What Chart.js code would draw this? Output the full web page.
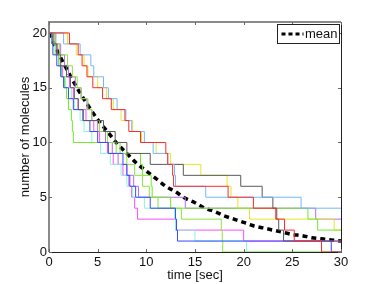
<!DOCTYPE html>
<html>
<head>
<meta charset="utf-8">
<script src="https://cdn.jsdelivr.net/npm/chart.js@4.4.1/dist/chart.umd.min.js"></script>
<style>
  html, body { margin: 0; padding: 0; background: #fff; }
  #wrap { width: 377px; height: 284px; position: relative; }
</style>
</head>
<body>
<div id="wrap"><canvas id="c" width="377" height="284"></canvas></div>
<script>
// ---- data ----
const startCount = 20;
const endTime = 30;
// jump times (sec) of each simulated trajectory; every jump removes one molecule
const redJumps      = [2.1, 3.0, 3.4, 3.9, 4.5, 5.5, 6.4, 7.8, 8.2, 9.4, 12.0, 12.2, 12.7, 12.8, 18.4, 21.0, 23.3, 24.2, 25.2, 28.0];
const lightBlueJumps= [1.5, 3.2, 4.3, 4.6, 5.6, 6.1, 7.0, 7.9, 8.5, 9.8, 10.7, 12.2, 12.9, 13.0, 16.1, 25.9];
const grayJumps     = [0.4, 0.8, 1.2, 1.8, 2.2, 2.6, 3.0, 3.5, 5.6, 6.8, 8.0, 10.4, 13.8, 19.7, 21.9, 23.0, 23.4, 23.6, 24.1];
const blueJumps     = [0.3, 0.4, 0.8, 1.2, 1.5, 2.0, 2.5, 3.5, 4.2, 5.0, 6.1, 7.6, 8.0, 8.3, 8.9, 10.4, 13.0, 13.1, 13.2, 29.0];
const greenAJumps   = [0.6, 1.1, 1.9, 2.4, 2.9, 3.3, 4.0, 4.4, 5.2, 6.0, 6.9, 8.0, 8.8, 9.6, 10.3, 11.2, 13.6, 17.7, 17.8, 17.85];
const greenBJumps   = [0.5, 0.7, 1.0, 1.3, 1.6, 1.8, 2.0, 2.3, 2.4, 2.5, 7.3, 9.4, 9.6, 10.5, 10.6, 12.5, 26.6, 27.6];
const yellowJumps   = [1.9, 2.8, 3.6, 4.0, 5.0, 5.9, 6.6, 7.4, 8.6, 9.5, 11.0, 12.5, 15.6, 18.3, 18.7, 19.4, 20.6, 29.3];
const cyanJumps     = [0.3, 0.6, 1.0, 1.3, 1.7, 2.3, 2.6, 3.2, 3.6, 4.4, 5.3, 6.3, 7.4, 8.0, 8.6, 9.8, 12.9, 13.0, 15.0, 20.3];
const magentaJumps  = [0.5, 0.9, 1.0, 1.4, 2.1, 2.5, 3.0, 3.8, 4.6, 5.2, 6.0, 6.6, 7.6, 8.2, 8.5, 8.8, 9.1, 13.0, 20.0];
const purpleJumps   = [0.7, 1.2, 1.6, 2.0, 2.7, 3.3, 3.9, 4.4, 5.0, 5.8, 6.5, 7.1, 8.0, 8.7, 9.2, 14.0, 27.4];

const meanTimes  = [0,1,2,3,4,5,6,7,8,9,10,11,12,13,14,15,16,17,18,19,20,21,22,23,24,25,26,27,28,29,30];
const meanValues = [20,18.1,16.4,14.8,13.4,12.1,11.0,9.9,9.0,8.1,7.4,6.7,6.0,5.5,4.9,4.5,4.0,3.7,3.3,3.0,2.7,2.4,2.2,2.0,1.8,1.6,1.5,1.3,1.2,1.1,1.0];

const xTicks = [0,5,10,15,20,25,30];
const yTicks = [0,5,10,15,20];

const xTitle = 'time [sec]';
const yTitle = 'number of molecules';
const meanLabel = 'mean';

// ---- build datasets ----
const runs = [
  {jumps: redJumps,       color: '#ff2a2a'},
  {jumps: lightBlueJumps, color: '#74b8ff'},
  {jumps: grayJumps,      color: '#5a5a5a'},
  {jumps: blueJumps,      color: '#3848ff'},
  {jumps: greenAJumps,    color: '#8ae43e'},
  {jumps: greenBJumps,    color: '#70ea2a'},
  {jumps: yellowJumps,    color: '#e6e62a'},
  {jumps: cyanJumps,      color: '#88f5e0'},
  {jumps: magentaJumps,   color: '#ff4cff'},
  {jumps: purpleJumps,    color: '#b868f0'}
];

function trajectory(jumps) {
  const pts = [{x: 0, y: startCount}];
  jumps.forEach((t, i) => pts.push({x: t, y: startCount - i - 1}));
  pts.push({x: endTime, y: startCount - jumps.length});
  return pts;
}

const datasets = runs.map(r => ({
  data: trajectory(r.jumps),
  borderColor: r.color,
  borderWidth: 1,
  stepped: true,
  pointRadius: 0,
  fill: false
}));
datasets.push({
  label: meanLabel,
  data: meanTimes.map((t, i) => ({x: t, y: meanValues[i]})),
  borderColor: '#000',
  borderWidth: 3.5,
  borderDash: [5, 4],
  pointRadius: 0,
  cubicInterpolationMode: 'monotone',
  fill: false
});

const FONT = "'Liberation Sans', Arial, Helvetica, sans-serif";

// frame, inward ticks and boxed legend
const framePlugin = {
  id: 'frame',
  afterDatasetsDraw(chart) {
    const {ctx, chartArea: a, scales} = chart;
    ctx.save();
    ctx.lineWidth = 2;
    ctx.strokeStyle = '#8a8a8a';
    ctx.beginPath();
    ctx.moveTo(a.left, a.bottom); ctx.lineTo(a.left, a.top); ctx.lineTo(a.right, a.top);
    ctx.stroke();
    ctx.lineWidth = 1;
    ctx.strokeStyle = '#222';
    ctx.beginPath();
    ctx.moveTo(a.left, a.bottom + 0.5); ctx.lineTo(a.right + 0.5, a.bottom + 0.5); ctx.lineTo(a.right + 0.5, a.top);
    ctx.stroke();
    ctx.strokeStyle = '#666';
    ctx.lineWidth = 1;
    const tl = 3;
    scales.x.ticks.forEach(t => {
      const px = Math.round(scales.x.getPixelForValue(t.value)) + 0.5;
      ctx.beginPath();
      ctx.moveTo(px, a.bottom); ctx.lineTo(px, a.bottom - tl);
      ctx.moveTo(px, a.top); ctx.lineTo(px, a.top + tl);
      ctx.stroke();
    });
    scales.y.ticks.forEach(t => {
      const py = Math.round(scales.y.getPixelForValue(t.value)) + 0.5;
      ctx.beginPath();
      ctx.moveTo(a.left, py); ctx.lineTo(a.left + tl, py);
      ctx.moveTo(a.right, py); ctx.lineTo(a.right - tl, py);
      ctx.stroke();
    });
    const ds = chart.data.datasets[chart.data.datasets.length - 1];
    const bw = 62, bh = 19;
    const bx = a.right - bw - 1.5, by = a.top + 2.5;
    ctx.fillStyle = '#fff';
    ctx.fillRect(bx, by, bw, bh);
    ctx.strokeStyle = '#222';
    ctx.lineWidth = 1;
    ctx.strokeRect(bx, by, bw, bh);
    const my = by + bh / 2;
    ctx.strokeStyle = ds.borderColor;
    ctx.lineWidth = 3;
    ctx.setLineDash([4, 3]);
    ctx.beginPath();
    ctx.moveTo(bx + 4, my); ctx.lineTo(bx + 26, my);
    ctx.stroke();
    ctx.setLineDash([]);
    ctx.fillStyle = '#111';
    ctx.font = '13px ' + FONT;
    ctx.textBaseline = 'middle';
    ctx.textAlign = 'left';
    ctx.fillText(ds.label, bx + 27.5, my + 0.5);
    ctx.restore();
  }
};

new Chart(document.getElementById('c'), {
  type: 'line',
  data: {datasets},
  options: {
    responsive: false,
    animation: false,
    events: [],
    layout: {padding: {top: 22, right: 36, bottom: 0, left: 0}},
    plugins: {legend: {display: false}, tooltip: {enabled: false}},
    scales: {
      x: {
        type: 'linear',
        min: 0, max: 30,
        afterBuildTicks: s => { s.ticks = xTicks.map(v => ({value: v})); },
        afterFit: s => { s.height = 32; },
        grid: {display: false, drawTicks: false},
        border: {display: false},
        ticks: {color: '#111', font: {size: 13, family: FONT}, padding: 3, maxRotation: 0, autoSkip: false},
        title: {display: true, text: xTitle, color: '#111', font: {size: 13, family: FONT}, padding: {top: 0, bottom: 1}}
      },
      y: {
        type: 'linear',
        min: 0, max: 21,
        afterBuildTicks: s => { s.ticks = yTicks.map(v => ({value: v})); },
        afterFit: s => { s.width = 49; },
        grid: {display: false, drawTicks: false},
        border: {display: false},
        ticks: {color: '#111', font: {size: 13, family: FONT}, padding: 2, autoSkip: false},
        title: {display: true, text: yTitle, color: '#111', font: {size: 13, family: FONT}, padding: {top: 18, bottom: 0}}
      }
    }
  },
  plugins: [framePlugin]
});
</script>
</body>
</html>
